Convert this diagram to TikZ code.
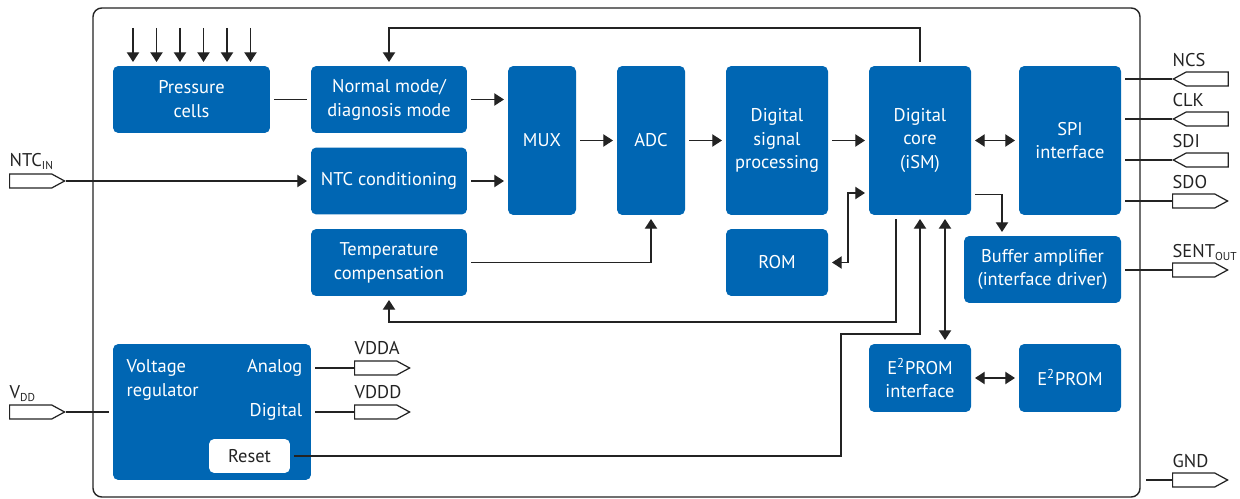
\documentclass[tikz,border=0pt]{standalone}
\usepackage{fontspec}
\setmainfont{PT Sans}
\usetikzlibrary{arrows.meta,shapes.symbols}
\definecolor{ifxblue}{RGB}{0,102,179}
\definecolor{linegray}{RGB}{35,35,35}
\newcommand{\sbs}[1]{\textsubscript{\fontsize{6.5}{7}\selectfont #1}}

\begin{document}
\begin{tikzpicture}[x=0.02cm,y=-0.02cm,color=linegray,line width=0.75pt,
  blk/.style={fill=ifxblue,rounded corners=3pt,text=white,align=center,
    font=\fontsize{10.5}{13.6}\selectfont,inner sep=0pt,outer sep=2.3pt},
  wtxt/.style={text=white,font=\fontsize{10.5}{13.6}\selectfont,inner sep=0pt},
  lbl/.style={font=\fontsize{10.5}{13.6}\selectfont,inner sep=0pt,anchor=base west},
  arr/.style={-{Triangle[length=5.5pt,width=7pt]}},
  dar/.style={{Triangle[length=5.5pt,width=7pt]}-{Triangle[length=5.5pt,width=7pt]}},
  pinin/.style={signal,signal to=west,draw=linegray,line width=0.7pt,fill=white,anchor=west,
    minimum width=1.1cm,minimum height=0.28cm,inner sep=0pt,signal pointer angle=57},
  pinout/.style={pinin,signal to=east}]
\useasboundingbox (0,0) rectangle (1240,499);

\draw[line width=0.8pt,rounded corners=5pt] (93,8) rectangle (1140,497);

\node[blk,minimum width=3.14cm,minimum height=1.34cm] (pc) at (191.5,99.5) {Pressure\\cells};
\node[blk,minimum width=3.12cm,minimum height=1.34cm] (nm) at (389,99.5) {Normal mode/\\diagnosis mode};
\node[blk,minimum width=3.12cm,minimum height=1.34cm] (ntc) at (389,181) {NTC conditioning};
\node[blk,minimum width=3.12cm,minimum height=1.34cm] (tc) at (389,262.5) {Temperature\\compensation};
\node[blk,minimum width=1.36cm,minimum height=2.98cm] (mux) at (542,140.5) {MUX};
\node[blk,minimum width=1.36cm,minimum height=2.98cm] (adc) at (651,140.5) {ADC};
\node[blk,minimum width=2.04cm,minimum height=2.98cm] (dsp) at (777,140.5) {Digital\\signal\\processing};
\node[blk,minimum width=2.04cm,minimum height=1.34cm] (rom) at (777,262.5) {ROM};
\node[blk,minimum width=2.04cm,minimum height=2.98cm] (core) at (920,140.5) {Digital\\core\\(iSM)};
\node[blk,minimum width=2.04cm,minimum height=2.98cm] (spi) at (1070,140.5) {SPI\\interface};
\node[blk,minimum width=3.14cm,minimum height=1.34cm] (buf) at (1042.5,269.5) {Buffer amplifier\\(interface driver)};
\node[blk,minimum width=2.04cm,minimum height=1.36cm] (e2i) at (920,378) {E\textsuperscript{2}PROM\\interface};
\node[blk,minimum width=2.04cm,minimum height=1.36cm] (e2p) at (1070,378) {E\textsuperscript{2}PROM};
\node[blk,minimum width=3.96cm,minimum height=2.72cm] (vreg) at (212,412) {};
\node[wtxt,anchor=west,align=left] (vrt) at (126,380) {Voltage\\regulator};
\node[wtxt,anchor=east] (ana) at (303,368) {Analog};
\node[wtxt,anchor=east] (dig) at (303,412) {Digital};
\node[blk,fill=white,text=linegray,minimum width=1.62cm,minimum height=0.68cm] (rst) at (249.5,456) {Reset};

\node[pinout] (ntcin) at (9,181) {};
\node[pinout] (vdd) at (9,412) {};
\node[pinout] (vdda) at (354,368) {};
\node[pinout] (vddd) at (354,412) {};
\node[pinin] (ncs) at (1172,79) {};
\node[pinin] (clk) at (1172,119) {};
\node[pinin] (sdi) at (1172,160) {};
\node[pinout] (sdo) at (1172,201) {};
\node[pinout] (sent) at (1172,270) {};
\node[pinout] (gnd) at (1172,480) {};

\node[lbl] (lntcin) at ([yshift=0.13cm]ntcin.west |- ntcin.north) {NTC\sbs{IN}};
\node[lbl] (lvdd) at ([yshift=0.12cm]vdd.west |- vdd.north) {V\sbs{DD}};
\node[lbl] (lvdda) at ([yshift=0.11cm]vdda.west |- vdda.north) {VDDA};
\node[lbl] (lvddd) at ([yshift=0.11cm]vddd.west |- vddd.north) {VDDD};
\node[lbl] (lncs) at ([yshift=0.1cm]ncs.west |- ncs.north) {NCS};
\node[lbl] (lclk) at ([yshift=0.1cm]clk.west |- clk.north) {CLK};
\node[lbl] (lsdi) at ([yshift=0.1cm]sdi.west |- sdi.north) {SDI};
\node[lbl] (lsdo) at ([yshift=0.1cm]sdo.west |- sdo.north) {SDO};
\node[lbl] (lsent) at ([yshift=0.1cm]sent.west |- sent.north) {SENT\sbs{OUT}};
\node[lbl] (lgnd) at ([yshift=0.1cm]gnd.west |- gnd.north) {GND};

\foreach \x [count=\i] in {133,156.5,180,203.5,227,250.5}{
  \coordinate (cell\i) at (\x,28);
  \draw[arr] (cell\i) -- (cell\i |- pc.north);
}
\draw (pc.east) -- (nm.west);
\coordinate (fbk) at (389,28);
\draw[arr] (core.north) |- (fbk) -- (nm.north);
\draw[arr] (nm.east) -- (mux.west |- nm.east);
\draw[arr] (ntcin.east) -- (ntc.west);
\draw[arr] (ntc.east) -- (mux.west |- ntc.east);
\draw[arr] (mux) -- (adc);
\draw[arr] (adc) -- (dsp);
\draw[arr] (dsp) -- (core);
\draw[dar] (core) -- (spi);
\draw[arr] (tc.east) -| (adc.south);
\coordinate (romk) at (848,193);
\draw[dar] (rom.east) -| (romk) -- (romk -| core.west);
\coordinate (tck) at (896,322);
\draw[arr] (core.south -| tck) -- (tck) -| (tc.south);
\coordinate (rstk) at (841,334);
\draw[arr] (rst.east) -| (rstk) -| (core.south);
\coordinate (e2k) at (945,300);
\draw[dar] (core.south -| e2k) -- (e2i.north -| e2k);
\draw[dar] (e2i) -- (e2p);
\coordinate (bufk) at (1002,194.5);
\draw[arr] (bufk -| core.east) -- (bufk) -- (bufk |- buf.north);
\foreach \p in {ncs,clk,sdi,sdo}
  \draw (spi.east |- \p.west) -- (\p.west);
\draw (buf.east |- sent.west) -- (sent.west);
\coordinate (gndk) at (1146,480);
\draw (gndk) -- (gnd.west);
\draw (vdd.east) -- (vreg.west);
\draw (vreg.east |- vdda.west) -- (vdda.west);
\draw (vreg.east |- vddd.west) -- (vddd.west);
\end{tikzpicture}
\end{document}
